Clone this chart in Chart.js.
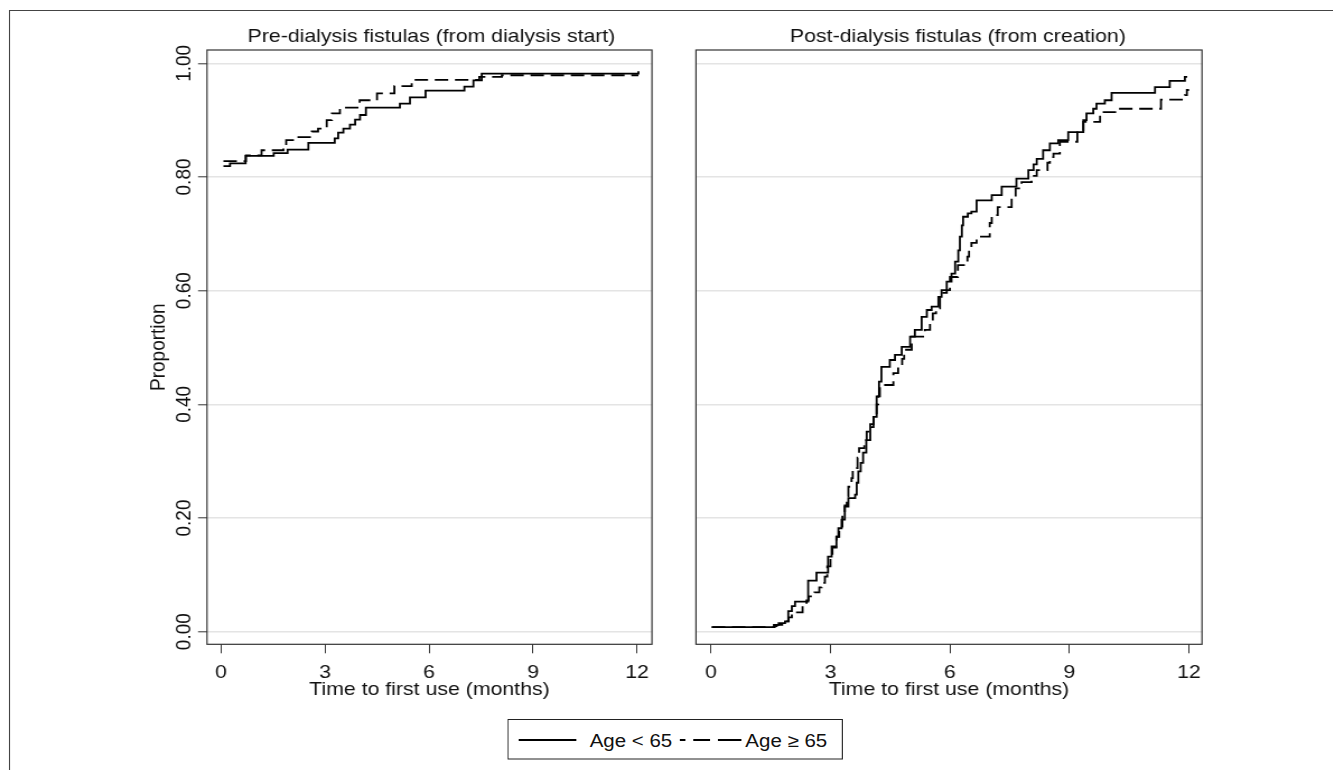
<!DOCTYPE html>
<html>
<head>
<meta charset="utf-8">
<script src="https://cdn.jsdelivr.net/npm/chart.js@4.4.1/dist/chart.umd.min.js"></script>
<style>
  html, body { margin: 0; padding: 0; background: #fff; width: 1333px; height: 770px; overflow: hidden; }
  #wrap { position: absolute; left: 0; top: 0; width: 1190px; height: 770px; transform: scaleX(1.12); transform-origin: 0 0; }
  #frame { position: absolute; left: 8.2px; top: 9.5px; width: 1300px; height: 900px; border: 1px solid #444; box-sizing: border-box; }
  canvas { position: absolute; }
  #legend { position: absolute; left: 452.7px; top: 719px; }
</style>
</head>
<body>
<div id="wrap">
  <div id="frame"></div>
  <canvas id="left" width="480" height="690" style="left:110px;top:20px;"></canvas>
  <canvas id="right" width="480" height="690" style="left:600px;top:20px;"></canvas>
  <svg id="legend" width="300" height="41" xmlns="http://www.w3.org/2000/svg">
    <rect x="0.5" y="0.5" width="298.6" height="39.5" fill="#fff" stroke="#222" stroke-width="1"/>
    <line x1="10.1" y1="21" x2="61.6" y2="21" stroke="#000" stroke-width="1.8"/>
    <text id="lg1" x="73.5" y="27.7" font-family="'Liberation Sans', Arial, sans-serif" font-size="18.3" fill="#111"></text>
    <line x1="154" y1="21" x2="209" y2="21" stroke="#000" stroke-width="1.8" stroke-dasharray="5 7 15 7 21"/>
    <text id="lg2" x="212.5" y="27.7" font-family="'Liberation Sans', Arial, sans-serif" font-size="18.3" fill="#111"></text>
  </svg>
</div>
<script>
// ---------- data ----------
const panelTitles = ['Pre-dialysis fistulas (from dialysis start)', 'Post-dialysis fistulas (from creation)'];
const seriesNames = ['Age < 65', 'Age \u2265 65'];
const xTitle = 'Time to first use (months)';
const yTitle = 'Proportion';
const xTicks = [0, 3, 6, 9, 12];
const xTickLabels = ['0', '3', '6', '9', '12'];
const yTicks = [0, 0.2, 0.4, 0.6, 0.8, 1.0];
const yTickLabels = ['0.00', '0.20', '0.40', '0.60', '0.80', '1.00'];

// Pre-dialysis, Age < 65
const preYoungT = [0.07, 0.26, 0.71, 1.52, 1.92, 2.52, 3.28, 3.38, 3.53, 3.72, 3.87, 4.01, 4.18, 5.16, 5.45, 5.9, 7.02, 7.28, 7.52, 12.02, 12.04];
const preYoungP = [0.819, 0.824, 0.837, 0.842, 0.848, 0.860, 0.868, 0.878, 0.885, 0.892, 0.901, 0.909, 0.922, 0.929, 0.940, 0.952, 0.959, 0.970, 0.982, 0.982, 0.986];
// Pre-dialysis, Age >= 65
const preOldT = [0.07, 0.72, 1.17, 1.8, 1.88, 2.18, 2.62, 2.8, 3.05, 3.2, 3.43, 4.0, 4.5, 5.0, 5.5, 7.45, 8.1, 12.04];
const preOldP = [0.828, 0.838, 0.847, 0.855, 0.865, 0.870, 0.880, 0.885, 0.900, 0.912, 0.922, 0.935, 0.947, 0.960, 0.971, 0.976, 0.979, 0.979];

// Post-dialysis, Age < 65
const postYoungT = [0.02, 1.58, 1.70, 1.86, 1.94, 2.03, 2.11, 2.44, 2.65, 2.94, 3.03, 3.15, 3.20, 3.28, 3.36, 3.45, 3.62, 3.66, 3.70, 3.76, 3.82, 3.90, 4.00, 4.08, 4.16, 4.22, 4.28, 4.49, 4.62, 4.79, 5.00, 5.12, 5.29, 5.42, 5.54, 5.71, 5.79, 5.92, 6.04, 6.13, 6.21, 6.25, 6.30, 6.33, 6.45, 6.54, 6.67, 7.05, 7.30, 7.67, 7.97, 8.10, 8.18, 8.34, 8.51, 8.72, 8.97, 9.35, 9.43, 9.60, 9.68, 9.89, 10.06, 11.15, 11.52, 11.90, 11.96];
const postYoungP = [0.008, 0.012, 0.015, 0.018, 0.036, 0.045, 0.053, 0.090, 0.104, 0.132, 0.150, 0.167, 0.182, 0.197, 0.220, 0.235, 0.241, 0.262, 0.282, 0.297, 0.315, 0.337, 0.360, 0.378, 0.414, 0.440, 0.466, 0.478, 0.487, 0.501, 0.519, 0.531, 0.554, 0.566, 0.572, 0.589, 0.601, 0.616, 0.630, 0.651, 0.671, 0.695, 0.715, 0.730, 0.736, 0.739, 0.759, 0.768, 0.783, 0.797, 0.812, 0.822, 0.832, 0.847, 0.859, 0.865, 0.879, 0.900, 0.912, 0.920, 0.929, 0.935, 0.948, 0.958, 0.969, 0.976, 0.976];
// Post-dialysis, Age >= 65
const postOldT = [0.02, 1.60, 1.65, 1.82, 1.95, 2.03, 2.30, 2.40, 2.45, 2.60, 2.72, 2.78, 2.86, 2.92, 3.00, 3.05, 3.15, 3.22, 3.30, 3.36, 3.41, 3.45, 3.53, 3.56, 3.68, 3.72, 3.85, 3.91, 4.00, 4.08, 4.16, 4.20, 4.24, 4.58, 4.70, 4.80, 4.85, 5.04, 5.37, 5.50, 5.57, 5.65, 5.75, 5.92, 6.00, 6.20, 6.44, 6.48, 6.54, 6.67, 7.00, 7.05, 7.20, 7.55, 7.65, 7.80, 8.05, 8.18, 8.45, 8.51, 8.60, 8.76, 9.20, 9.35, 9.77, 10.20, 11.30, 11.90, 11.95, 11.98];
const postOldP = [0.008, 0.010, 0.012, 0.018, 0.025, 0.034, 0.045, 0.055, 0.062, 0.069, 0.078, 0.086, 0.097, 0.115, 0.130, 0.148, 0.167, 0.185, 0.205, 0.222, 0.238, 0.255, 0.270, 0.288, 0.306, 0.323, 0.337, 0.352, 0.365, 0.381, 0.400, 0.414, 0.434, 0.455, 0.466, 0.480, 0.496, 0.519, 0.531, 0.543, 0.560, 0.569, 0.596, 0.601, 0.624, 0.645, 0.660, 0.671, 0.684, 0.695, 0.719, 0.733, 0.747, 0.765, 0.780, 0.791, 0.802, 0.812, 0.825, 0.835, 0.841, 0.862, 0.880, 0.897, 0.914, 0.920, 0.936, 0.944, 0.953, 0.955];

// ---------- rendering ----------
document.getElementById('lg1').textContent = seriesNames[0];
document.getElementById('lg2').textContent = seriesNames[1];

const FONT = '19px "Liberation Sans", Arial, sans-serif';
const pts = (t, p) => t.map((v, i) => ({ x: v, y: p[i] }));

const textPlugin = {
  id: 'panelText',
  afterDraw(chart, args, o) {
    const { ctx, chartArea: a, scales: { x, y } } = chart;
    ctx.save();
    ctx.strokeStyle = '#333';
    ctx.lineWidth = 1.2;
    ctx.strokeRect(a.left, a.top, a.right - a.left, a.bottom - a.top);
    ctx.fillStyle = '#111';
    ctx.font = FONT;
    ctx.textAlign = 'center';
    ctx.textBaseline = 'alphabetic';
    const cx = (a.left + a.right) / 2;
    ctx.fillText(o.title, cx + o.titleShift, a.top - 8.3);
    xTicks.forEach((v, i) => ctx.fillText(xTickLabels[i], x.getPixelForValue(v), a.bottom + 34));
    ctx.fillText(xTitle, cx, a.bottom + 50.7);
    if (o.yLabels) {
      yTicks.forEach((v, i) => {
        ctx.save();
        ctx.translate(o.yLabelX, y.getPixelForValue(v));
        ctx.rotate(-Math.PI / 2);
        ctx.fillText(yTickLabels[i], 0, 0);
        ctx.restore();
      });
      ctx.save();
      ctx.translate(o.yTitleX, (a.top + a.bottom) / 2);
      ctx.rotate(-Math.PI / 2);
      ctx.fillText(yTitle, 0, 0);
      ctx.restore();
    }
    ctx.restore();
  }
};

function ds(label, data, dashed) {
  return {
    label, data,
    stepped: 'before',
    borderColor: '#000',
    borderWidth: 1.8,
    borderDash: dashed ? [12, 6] : [],
    pointRadius: 0,
    fill: false,
    tension: 0
  };
}

function makeChart(id, cfg) {
  return new Chart(document.getElementById(id), {
    type: 'line',
    data: { datasets: cfg.datasets },
    plugins: [textPlugin],
    options: {
      responsive: false,
      animation: false,
      devicePixelRatio: 1,
      layout: { autoPadding: false, padding: { left: cfg.padLeft, right: cfg.padRight, top: 30, bottom: 0 } },
      plugins: {
        legend: { display: false },
        tooltip: { enabled: false },
        title: { display: false },
        panelText: cfg.text
      },
      scales: {
        x: {
          type: 'linear',
          min: cfg.xmin, max: cfg.xmax,
          afterBuildTicks: s => { s.ticks = xTicks.map(v => ({ value: v })); },
          afterFit: s => { s.height = 65.7; },
          ticks: { display: false },
          border: { display: false },
          grid: { drawOnChartArea: false, drawTicks: true, tickLength: 9, tickColor: '#333', tickWidth: 1 }
        },
        y: {
          type: 'linear',
          min: -0.0222, max: 1.0234,
          afterBuildTicks: s => { s.ticks = yTicks.map(v => ({ value: v })); },
          afterFit: s => { s.width = cfg.yWidth; },
          ticks: { display: false },
          border: { display: false },
          grid: { color: '#e4e4e4', lineWidth: 1.6, drawTicks: cfg.yTicks, tickLength: 8, tickColor: '#333', tickWidth: 1 }
        }
      }
    }
  });
}

makeChart('left', {
  datasets: [ds(seriesNames[0], pts(preYoungT, preYoungP), false), ds(seriesNames[1], pts(preOldT, preOldP), true)],
  padLeft: 0, padRight: 7.9, yWidth: 74.8, yTicks: true,
  xmin: -0.404, xmax: 12.43,
  text: { title: panelTitles[0], titleShift: 1.8, yLabels: true, yLabelX: 60.3, yTitleX: 37.3 }
});

makeChart('right', {
  datasets: [ds(seriesNames[0], pts(postYoungT, postYoungP), false), ds(seriesNames[1], pts(postOldT, postOldP), true)],
  padLeft: 21.4, padRight: 6.8, yWidth: 0, yTicks: false,
  xmin: -0.377, xmax: 12.33,
  text: { title: panelTitles[1], titleShift: 8, yLabels: false }
});
</script>
</body>
</html>
